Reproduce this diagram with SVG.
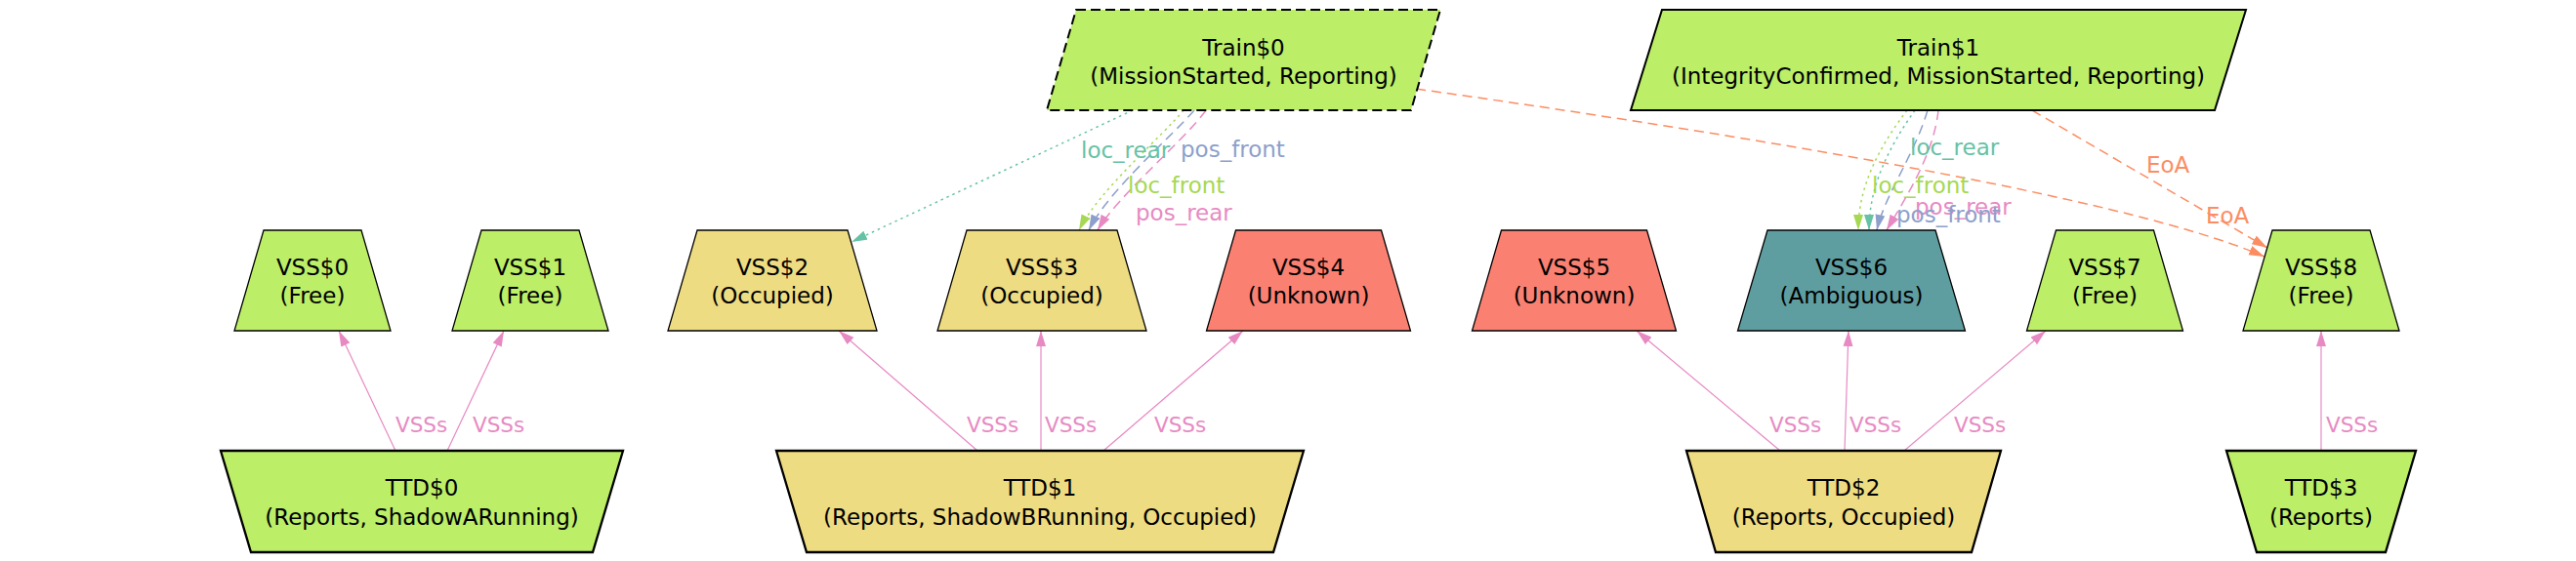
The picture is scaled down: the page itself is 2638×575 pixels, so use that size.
<svg xmlns="http://www.w3.org/2000/svg" width="2638" height="575" viewBox="0 0 2638 575">
<style>
text{font-family:"DejaVu Sans","Liberation Sans",sans-serif;font-size:23px}
.nt{text-anchor:middle;fill:#000}
.g{fill:#bcee68}
.y{fill:#eedc82}
.r{fill:#fa8072}
.c{fill:#5f9ea0}
.vss{stroke:#000;stroke-width:1.3}
.ttd{stroke:#000;stroke-width:2.3}
.trn{stroke:#000;stroke-width:2}
.e{fill:none;stroke-width:1.5}
.vs{stroke:#e78ac3;stroke-width:1.2;fill:none}
.dot{stroke-dasharray:2.5,4}
.dash{stroke-dasharray:10,6}
.sm{font-size:21.5px}
.lteal{fill:#66c2a5}.lgreen{fill:#a6d854}.lblue{fill:#8da0cb}.lpink{fill:#e78ac3}.lorange{fill:#fc8d62}
</style>
<defs>
<marker id="aP" markerUnits="userSpaceOnUse" markerWidth="17" markerHeight="11" refX="16" refY="5" orient="auto"><path d="M0,0L16,5L0,10z" fill="#e78ac3"/></marker>
<marker id="aT" markerUnits="userSpaceOnUse" markerWidth="17" markerHeight="11" refX="16" refY="5" orient="auto"><path d="M0,0L16,5L0,10z" fill="#66c2a5"/></marker>
<marker id="aG" markerUnits="userSpaceOnUse" markerWidth="17" markerHeight="11" refX="16" refY="5" orient="auto"><path d="M0,0L16,5L0,10z" fill="#a6d854"/></marker>
<marker id="aB" markerUnits="userSpaceOnUse" markerWidth="17" markerHeight="11" refX="16" refY="5" orient="auto"><path d="M0,0L16,5L0,10z" fill="#8da0cb"/></marker>
<marker id="aO" markerUnits="userSpaceOnUse" markerWidth="17" markerHeight="11" refX="16" refY="5" orient="auto"><path d="M0,0L16,5L0,10z" fill="#fc8d62"/></marker>
</defs>
<rect width="2638" height="575" fill="#fff"/>
<g id="connectors">
<path class="vs" d="M405,462L347,339" marker-end="url(#aP)"/>
<path class="vs" d="M458,462L516,339" marker-end="url(#aP)"/>
<path class="vs" d="M1001,462L859,339" marker-end="url(#aP)"/>
<path class="vs" d="M1066,462L1066,339" marker-end="url(#aP)"/>
<path class="vs" d="M1130,462L1273,339" marker-end="url(#aP)"/>
<path class="vs" d="M1823,462L1676,339" marker-end="url(#aP)"/>
<path class="vs" d="M1889,462L1893,339" marker-end="url(#aP)"/>
<path class="vs" d="M1950,462L2095,339" marker-end="url(#aP)"/>
<path class="vs" d="M2377,462L2377,339" marker-end="url(#aP)"/>
<text class="lpink sm" x="405" y="443">VSSs</text>
<text class="lpink sm" x="484" y="443">VSSs</text>
<text class="lpink sm" x="990" y="443">VSSs</text>
<text class="lpink sm" x="1070" y="443">VSSs</text>
<text class="lpink sm" x="1182" y="443">VSSs</text>
<text class="lpink sm" x="1812" y="443">VSSs</text>
<text class="lpink sm" x="1894" y="443">VSSs</text>
<text class="lpink sm" x="2001" y="443">VSSs</text>
<text class="lpink sm" x="2382" y="443">VSSs</text>
<path class="e dot" stroke="#66c2a5" d="M1160,113L872,248" marker-end="url(#aT)"/>
<path class="e dot" stroke="#a6d854" d="M1212,113C1190,140 1125,195 1105,236" marker-end="url(#aG)"/>
<path class="e dash" stroke="#8da0cb" d="M1223,113C1200,140 1135,195 1115,236" marker-end="url(#aB)"/>
<path class="e dash" stroke="#e78ac3" d="M1235,113C1212,145 1145,200 1124,236" marker-end="url(#aP)"/>
<path class="e dash" stroke="#fc8d62" d="M1450,91Q2150,190 2319,263" marker-end="url(#aO)"/>
<path class="e dot" stroke="#a6d854" d="M1953,113C1925,150 1903,190 1903,236" marker-end="url(#aG)"/>
<path class="e dot" stroke="#66c2a5" d="M1961,113C1935,150 1914,190 1914,236" marker-end="url(#aT)"/>
<path class="e dash" stroke="#8da0cb" d="M1974,113C1960,160 1930,200 1922,236" marker-end="url(#aB)"/>
<path class="e dash" stroke="#e78ac3" d="M1985,113C1980,160 1950,205 1932,236" marker-end="url(#aP)"/>
<path class="e dash" stroke="#fc8d62" d="M2081,113L2322,254" marker-end="url(#aO)"/>
<text class="lteal" x="1107" y="162">loc_rear</text>
<text class="lblue" x="1209" y="161">pos_front</text>
<text class="lgreen" x="1155" y="198">loc_front</text>
<text class="lpink" x="1163" y="226">pos_rear</text>
<text class="lteal" x="1956" y="159">loc_rear</text>
<text class="lgreen" x="1917" y="198">loc_front</text>
<text class="lpink" x="1961" y="220">pos_rear</text>
<text class="lblue" x="1942" y="228">pos_front</text>
<text class="lorange" x="2198" y="177">EoA</text>
<text class="lorange" x="2259" y="229">EoA</text>
</g>
<g id="Train0"><polygon class="g trn" stroke-dasharray="10,5" points="1102,10 1475,10 1445,113 1072,113"/><text class="nt" x="1273.5" y="57">Train$0</text><text class="nt" x="1273.5" y="86">(MissionStarted, Reporting)</text></g>
<g id="Train1"><polygon class="g trn" points="1702,10 2300,10 2268,113 1670,113"/><text class="nt" x="1985" y="57">Train$1</text><text class="nt" x="1985" y="86">(IntegrityConfirmed, MissionStarted, Reporting)</text></g>
<g id="VSS0"><polygon class="g vss" points="270,236 370,236 400,339 240,339"/><text class="nt" x="320" y="282">VSS$0</text><text class="nt" x="320" y="311">(Free)</text></g>
<g id="VSS1"><polygon class="g vss" points="493,236 593,236 623,339 463,339"/><text class="nt" x="543" y="282">VSS$1</text><text class="nt" x="543" y="311">(Free)</text></g>
<g id="VSS2"><polygon class="y vss" points="714,236 868,236 898,339 684,339"/><text class="nt" x="791" y="282">VSS$2</text><text class="nt" x="791" y="311">(Occupied)</text></g>
<g id="VSS3"><polygon class="y vss" points="990,236 1144,236 1174,339 960,339"/><text class="nt" x="1067" y="282">VSS$3</text><text class="nt" x="1067" y="311">(Occupied)</text></g>
<g id="VSS4"><polygon class="r vss" points="1265.5,236 1414.5,236 1444.5,339 1235.5,339"/><text class="nt" x="1340" y="282">VSS$4</text><text class="nt" x="1340" y="311">(Unknown)</text></g>
<g id="VSS5"><polygon class="r vss" points="1537.5,236 1686.5,236 1716.5,339 1507.5,339"/><text class="nt" x="1612" y="282">VSS$5</text><text class="nt" x="1612" y="311">(Unknown)</text></g>
<g id="VSS6"><polygon class="c vss" points="1810,236 1982,236 2012.5,339 1779.5,339"/><text class="nt" x="1896" y="282">VSS$6</text><text class="nt" x="1896" y="311">(Ambiguous)</text></g>
<g id="VSS7"><polygon class="g vss" points="2105.5,236 2205.5,236 2235.5,339 2075.5,339"/><text class="nt" x="2155.5" y="282">VSS$7</text><text class="nt" x="2155.5" y="311">(Free)</text></g>
<g id="VSS8"><polygon class="g vss" points="2327,236 2427,236 2457,339 2297,339"/><text class="nt" x="2377" y="282">VSS$8</text><text class="nt" x="2377" y="311">(Free)</text></g>
<g id="TTD0"><polygon class="g ttd" points="226,462 638,462 607,566 257,566"/><text class="nt" x="432" y="508">TTD$0</text><text class="nt" x="432" y="538">(Reports, ShadowARunning)</text></g>
<g id="TTD1"><polygon class="y ttd" points="795,462 1335,462 1304,566 826,566"/><text class="nt" x="1065" y="508">TTD$1</text><text class="nt" x="1065" y="538">(Reports, ShadowBRunning, Occupied)</text></g>
<g id="TTD2"><polygon class="y ttd" points="1727,462 2049,462 2019,566 1757,566"/><text class="nt" x="1888" y="508">TTD$2</text><text class="nt" x="1888" y="538">(Reports, Occupied)</text></g>
<g id="TTD3"><polygon class="g ttd" points="2280,462 2474,462 2443,566 2311,566"/><text class="nt" x="2377" y="508">TTD$3</text><text class="nt" x="2377" y="538">(Reports)</text></g>
</svg>
